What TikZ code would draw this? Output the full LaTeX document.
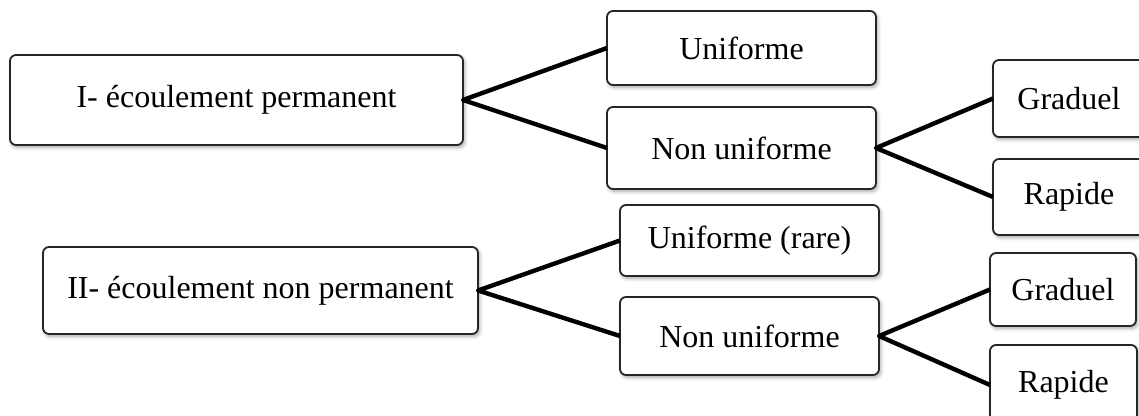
\documentclass[tikz,border=0pt]{standalone}
\usepackage{fontspec}
\setmainfont{Liberation Serif}
\usetikzlibrary{shadows.blur}
\begin{document}
\begin{tikzpicture}[x=0.5pt,y=-0.5pt,
  box/.style={draw=black!85,line width=0.9pt,rounded corners=3pt,fill=white,
    inner sep=0pt,outer sep=0pt,font=\fontsize{16}{19}\selectfont,
    blur shadow={shadow xshift=0.8pt,shadow yshift=-1.2pt,shadow blur steps=6,shadow opacity=35}},
  link/.style={line width=2.2pt,black,line join=round}]
\useasboundingbox (0,0) rectangle (1139,416);
\clip (0,0) rectangle (1139,416);
\node[box,minimum width=226.5pt,minimum height=45pt] (A) at (236.5,100) {I- écoulement permanent};
\node[box,minimum width=134.5pt,minimum height=37pt] (U1) at (741.5,48) {Uniforme};
\node[box,minimum width=134.5pt,minimum height=41pt] (N1) at (741.5,148) {Non uniforme};
\node[box,minimum width=76pt,minimum height=38.5pt] (G1) at (1069,98.5) {Graduel};
\node[box,minimum width=76pt,minimum height=38pt] (R1) at (1069,197) {Rapide};
\node[box,minimum width=217.5pt,minimum height=43.5pt] (B) at (260.5,290.5) {II- écoulement non permanent};
\node[box,minimum width=129.5pt,minimum height=35.5pt] (U2) at (749.5,240.5) {Uniforme (rare)};
\node[box,minimum width=129.5pt,minimum height=39pt] (N2) at (749.5,336) {Non uniforme};
\node[box,minimum width=73pt,minimum height=36.5pt] (G2) at (1063,289.5) {Graduel};
\node[box,minimum width=73.5pt,minimum height=40pt] (R2) at (1063.5,385) {Rapide};
\draw[link] (U1.west) -- (A.east) -- (N1.west);
\draw[link] (G1.west) -- (N1.east) -- (R1.west);
\draw[link] (U2.west) -- (B.east) -- (N2.west);
\draw[link] (G2.west) -- (N2.east) -- (R2.west);
\end{tikzpicture}
\end{document}
